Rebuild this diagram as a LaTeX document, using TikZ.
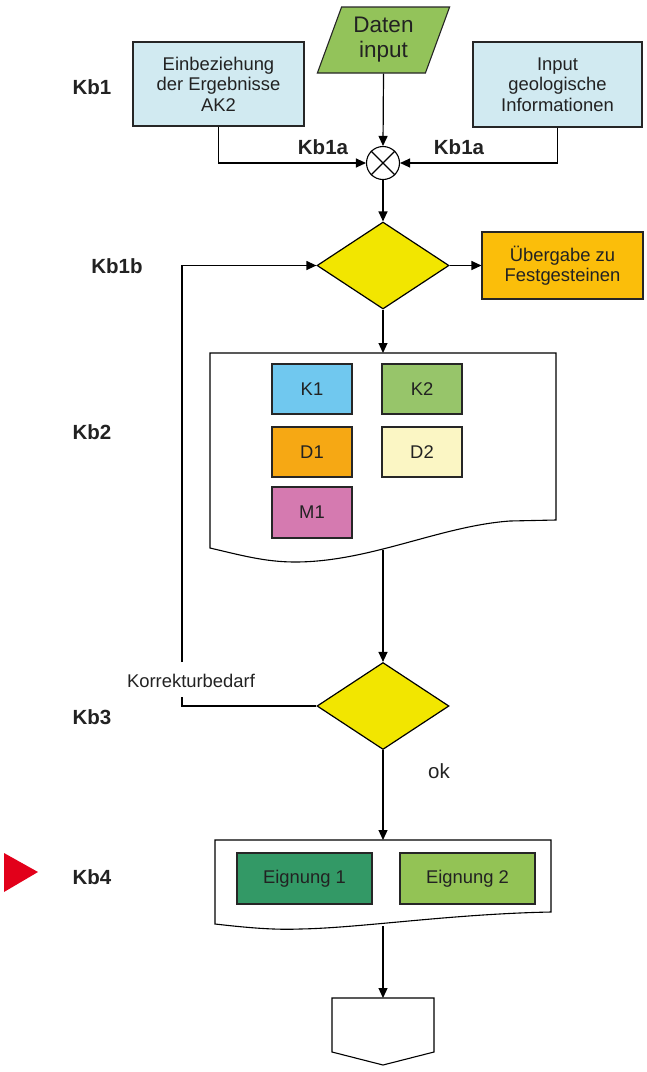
\documentclass[tikz,border=0pt]{standalone}
\usepackage{fontspec}
\setmainfont{Liberation Sans}
\usetikzlibrary{shapes.geometric,arrows.meta}
\definecolor{txt}{HTML}{222222}
\definecolor{lblue}{HTML}{D1EAF1}
\definecolor{dgreen}{HTML}{93C35A}
\definecolor{dyell}{HTML}{F2E600}
\definecolor{uorange}{HTML}{FBBE0A}
\definecolor{kone}{HTML}{70C8EF}
\definecolor{ktwo}{HTML}{97C56A}
\definecolor{done}{HTML}{F6A814}
\definecolor{dtwo}{HTML}{FBF6C4}
\definecolor{mone}{HTML}{D57AB0}
\definecolor{eone}{HTML}{339966}
\definecolor{etwo}{HTML}{93C355}
\definecolor{kbred}{HTML}{E2001A}
\tikzset{
  box/.style={draw=black!85, line width=1.1pt, text=txt, align=center, inner sep=0pt,
    font=\fontsize{18.4}{20.5}\selectfont},
  kblabel/.style={text=txt, font=\fontsize{20.5}{24}\bfseries\selectfont, inner sep=0pt},
  plain/.style={text=txt, font=\fontsize{18.4}{20.5}\selectfont, inner sep=0pt},
  arr/.style={-{Triangle[length=10pt,width=9pt]}, line width=1.2pt},
  ln/.style={line width=1.2pt},
  dec/.style={draw=black, line width=1.2pt, fill=dyell, diamond, minimum width=132pt, minimum height=87pt, inner sep=0pt},
}
\begin{document}
\begin{tikzpicture}[x=1pt,y=-1pt]
\useasboundingbox (0,0) rectangle (646,1072);
% left labels
\node[kblabel] (kb1) at (92,87) {Kb1};
\node[kblabel] (kb1b) at (117,266) {Kb1b};
\node[kblabel] (kb2) at (92,432) {Kb2};
\node[kblabel] (kb3) at (92,717) {Kb3};
\node[kblabel] (kb4) at (92,877) {Kb4};
\fill[kbred] (4,853) -- (38,872) -- (4,892) -- cycle;
% top
\node[draw=black!85, line width=1.1pt, fill=dgreen, trapezium, trapezium left angle=69, trapezium right angle=111,
  trapezium stretches=true, minimum width=133pt, minimum height=66pt, inner sep=0pt,
  text=txt, align=center, font=\fontsize{22.5}{25}\selectfont] (daten) at (383.5,40) {Daten\\input};
\node[box, fill=lblue, minimum width=171pt, minimum height=84pt] (ak2) at (218.5,84) {Einbeziehung\\der Ergebnisse\\AK2};
\node[box, fill=lblue, minimum width=169pt, minimum height=85pt] (geo) at (557.5,84.5) {Input\\geologische\\Informationen};
\node[draw=black, line width=1.1pt, fill=white, circle, minimum size=33pt, inner sep=0pt] (sum) at (383,163) {};
\draw[line width=1.1pt] (sum.45) -- (sum.225) (sum.135) -- (sum.-45);
\node[kblabel] (kb1al) at (323,147) {Kb1a};
\node[kblabel] (kb1ar) at (459,147) {Kb1a};
\draw[arr] (daten.south) -- (sum.north);
\draw[arr] (ak2.south) |- (sum.west);
\draw[arr] (geo.south) |- (sum.east);
% decision 1
\node[dec] (dia1) at (383,265.5) {};
\node[box, fill=uorange, minimum width=161pt, minimum height=67pt] (ueb) at (562.5,265.5) {Übergabe zu\\Festgesteinen};
\draw[arr] (sum.south) -- (dia1.north);
\draw[arr] (dia1.east) -- (ueb.west);
% document 1
\coordinate (d1top) at (383,353);
\coordinate (d1bot) at (383,550);
\draw[line width=1.1pt, fill=white] (210,353) -- (556,353) -- (556,520) -- (510,521)
  .. controls (440,526) and (370,562) .. (295,562)
  .. controls (265,562) and (240,555) .. (210,548) -- cycle;
\draw[arr] (dia1.south) -- (d1top);
\node[box, fill=kone, minimum width=80pt, minimum height=50pt] (k1) at (312,389) {K1};
\node[box, fill=ktwo, minimum width=80pt, minimum height=50pt] (k2) at (422,389) {K2};
\node[box, fill=done, minimum width=80pt, minimum height=50pt] (d1) at (312,452) {D1};
\node[box, fill=dtwo, minimum width=80pt, minimum height=50pt] (d2) at (422,452) {D2};
\node[box, fill=mone, minimum width=80pt, minimum height=51pt] (m1) at (312,512.5) {M1};
% decision 2
\node[dec] (dia2) at (383,706) {};
\draw[arr] (d1bot) -- (dia2.north);
\node[plain] (kor) at (191,681) {Korrekturbedarf};
\coordinate (fbb) at (182,706);
\coordinate (fbt) at (182,265.5);
\draw[ln] (dia2.west) -- (fbb) -- (182,697);
\draw[arr] (182,662) -- (fbt) -- (dia1.west);
\node[plain, font=\fontsize{20.5}{24}\selectfont] (ok) at (439,771) {ok};
% document 2
\coordinate (d2top) at (383,840);
\coordinate (d2bot) at (383,926);
\draw[line width=1.1pt, fill=white] (215,840) -- (551,840) -- (551,912)
  .. controls (450,914) and (360,928) .. (300,929)
  .. controls (275,930) and (250,928) .. (215,924) -- cycle;
\draw[arr] (dia2.south) -- (d2top);
\node[box, fill=eone, minimum width=135pt, minimum height=51pt] (e1) at (304.5,878.5) {Eignung 1};
\node[box, fill=etwo, minimum width=135pt, minimum height=51pt] (e2) at (467.5,878.5) {Eignung 2};
% off-page connector
\coordinate (optop) at (383,998);
\draw[line width=1.1pt, fill=white] (332,998) -- (434,998) -- (434,1052) -- (383,1065) -- (332,1052) -- cycle;
\draw[arr] (d2bot) -- (optop);
\end{tikzpicture}
\end{document}
